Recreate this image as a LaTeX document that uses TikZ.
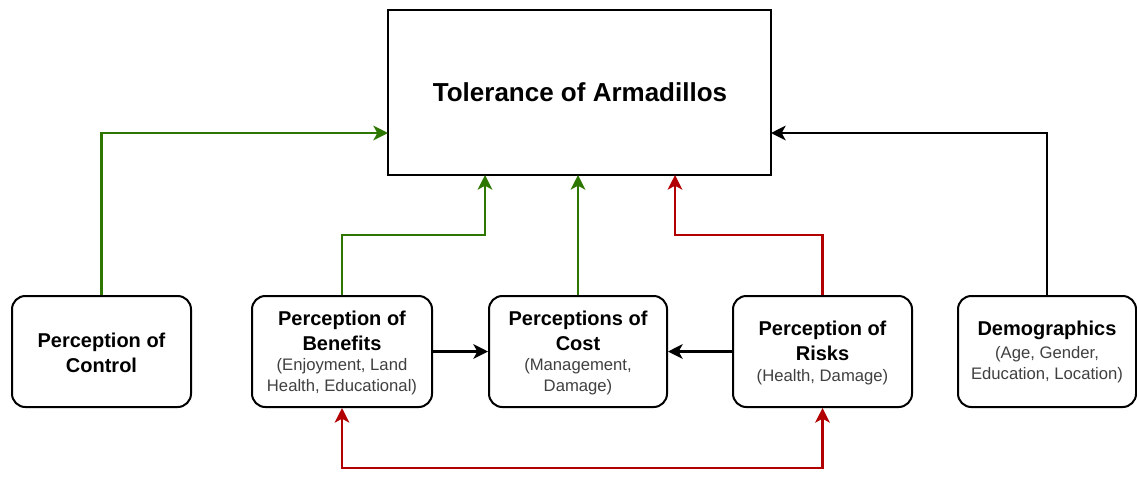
\documentclass[tikz,border=0pt]{standalone}
\usepackage{fontspec}
\setmainfont{Liberation Sans}
\usetikzlibrary{arrows.meta}
\definecolor{dgreen}{HTML}{2D7600}
\definecolor{dred}{HTML}{B20000}
\definecolor{subgray}{HTML}{404040}
\tikzset{
  mytip/.tip={Stealth[length=11pt,width=11pt,inset=3pt]},
  box/.style={draw, line width=1.5pt, rounded corners=10pt, fill=white, inner sep=0pt},
  mainbox/.style={draw, line width=1.8pt, fill=white, inner sep=0pt},
  ttl/.style={align=center, font=\bfseries\fontsize{15}{18.75}\selectfont},
  sub/.style={align=center, text=subgray, font=\fontsize{12.5}{15.75}\selectfont},
  conn/.style={line width=1.6pt, -mytip},
  gconn/.style={conn, draw=dgreen},
  rconn/.style={conn, draw=dred},
  kconn/.style={conn, draw=black},
}
\begin{document}
\begin{tikzpicture}[x=0.75pt,y=-0.75pt]
\useasboundingbox (0,0) rectangle (1137,476);
% boxes
\node[mainbox, minimum width=383*0.75pt, minimum height=165*0.75pt] (tol) at (579.5,92.5) {};
\node[font=\bfseries\fontsize{19.5}{22}\selectfont] (toltxt) at (580,92) {Tolerance of Armadillos};
\node[box, minimum width=179*0.75pt, minimum height=111*0.75pt] (ctrl) at (101.5,351.5) {};
\node[box, minimum width=180*0.75pt, minimum height=111*0.75pt] (ben) at (342,351.5) {};
\node[box, minimum width=178*0.75pt, minimum height=111*0.75pt] (cost) at (578,351.5) {};
\node[box, minimum width=179*0.75pt, minimum height=111*0.75pt] (risk) at (822.5,351.5) {};
\node[box, minimum width=178*0.75pt, minimum height=111*0.75pt] (demo) at (1047,351.5) {};
% texts
\node[ttl] (ctrlt) at (101.5,352.5) {Perception of\\Control};
\node[ttl] (bent) at (342,330.5) {Perception of\\Benefits};
\node[sub] (bens) at (342,376.5) {(Enjoyment, Land\\Health, Educational)};
\node[ttl] (costt) at (578,330.5) {Perceptions of\\Cost};
\node[sub] (costs) at (578,376.5) {(Management,\\Damage)};
\node[ttl] (riskt) at (822.5,341) {Perception of\\Risks};
\node[sub] (risks) at (822.5,377) {(Health, Damage)};
\node[ttl] (demot) at (1047,330) {Demographics};
\node[sub] (demos) at (1047,365) {(Age, Gender,\\Education, Location)};
% connectors
\coordinate (tolL) at (388,133);
\coordinate (tolR) at (771,133);
\draw[gconn] (ctrl.north) |- (tolL);
\draw[gconn] (ben.north) -- (342,235) -| (485,175);
\draw[gconn] (cost.north) -- (578,175);
\draw[rconn] (risk.north) -- (822.5,235) -| (675,175);
\draw[kconn] (demo.north) |- (tolR);
\draw[kconn] (ben.east) -- (cost.west);
\draw[kconn] (risk.west) -- (cost.east);
\draw[rconn, mytip-mytip] (ben.south) -- (342,468) -- (822.5,468) -- (risk.south);
\end{tikzpicture}
\end{document}
